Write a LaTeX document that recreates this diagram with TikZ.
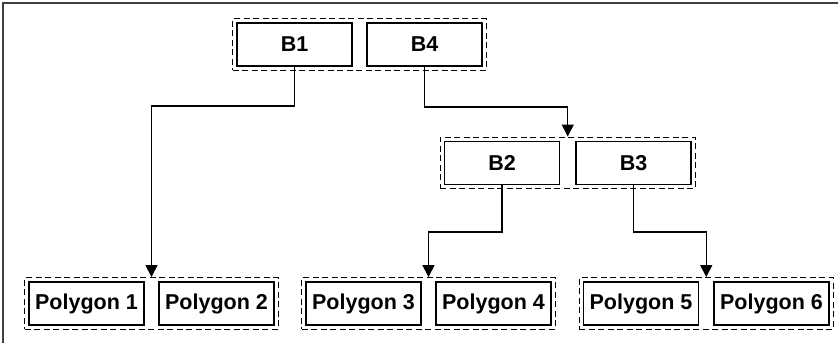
\documentclass[tikz,border=0pt]{standalone}
\usepackage{fontspec}
\setmainfont{Liberation Sans}
\usetikzlibrary{fit,arrows.meta}
\begin{document}
\begin{tikzpicture}[x=1pt,y=-1pt,
  box/.style={draw,line width=1.5pt,minimum width=115pt,minimum height=43pt,inner sep=0pt,font=\fontsize{21.5}{25}\selectfont\bfseries},
  grp/.style={draw,line width=1.4pt,dash pattern=on 6pt off 3.5pt,inner sep=3.5pt},
  conn/.style={line width=1.4pt,-{Triangle[length=12pt,width=12pt]}},
  frame/.style={draw=black!75,line width=2.4pt}]
\useasboundingbox (0,0) rectangle (838,343);
\draw[frame] (3,343) -- (3,3) -- (838,3);
% top
\node[box] (b1) at (294.5,44.5) {B1};
\node[box] (b4) at (424.5,44.5) {B4};
\node[grp,fit=(b1)(b4)] (gt) {};
% middle
\node[box] (b2) at (502,163) {B2};
\node[box] (b3) at (633.5,163) {B3};
\node[grp,fit=(b2)(b3)] (gm) {};
% bottom
\node[box] (p1) at (86.5,303.5) {Polygon 1};
\node[box] (p2) at (216.5,303.5) {Polygon 2};
\node[grp,fit=(p1)(p2)] (g1) {};
\node[box] (p3) at (363.5,303.5) {Polygon 3};
\node[box] (p4) at (493.5,303.5) {Polygon 4};
\node[grp,fit=(p3)(p4)] (g2) {};
\node[box] (p5) at (641,303.5) {Polygon 5};
\node[box] (p6) at (771.5,303.5) {Polygon 6};
\node[grp,fit=(p5)(p6)] (g3) {};
% connectors
\draw[conn] (b1.south) -- (b1.south |- 0,106) -| (g1.north);
\draw[conn] (b4.south) -- (b4.south |- 0,107) -| (gm.north);
\draw[conn] (b2.south) -- (b2.south |- 0,232) -| (g2.north);
\draw[conn] (b3.south) -- (b3.south |- 0,232) -| (g3.north);
\end{tikzpicture}
\end{document}
